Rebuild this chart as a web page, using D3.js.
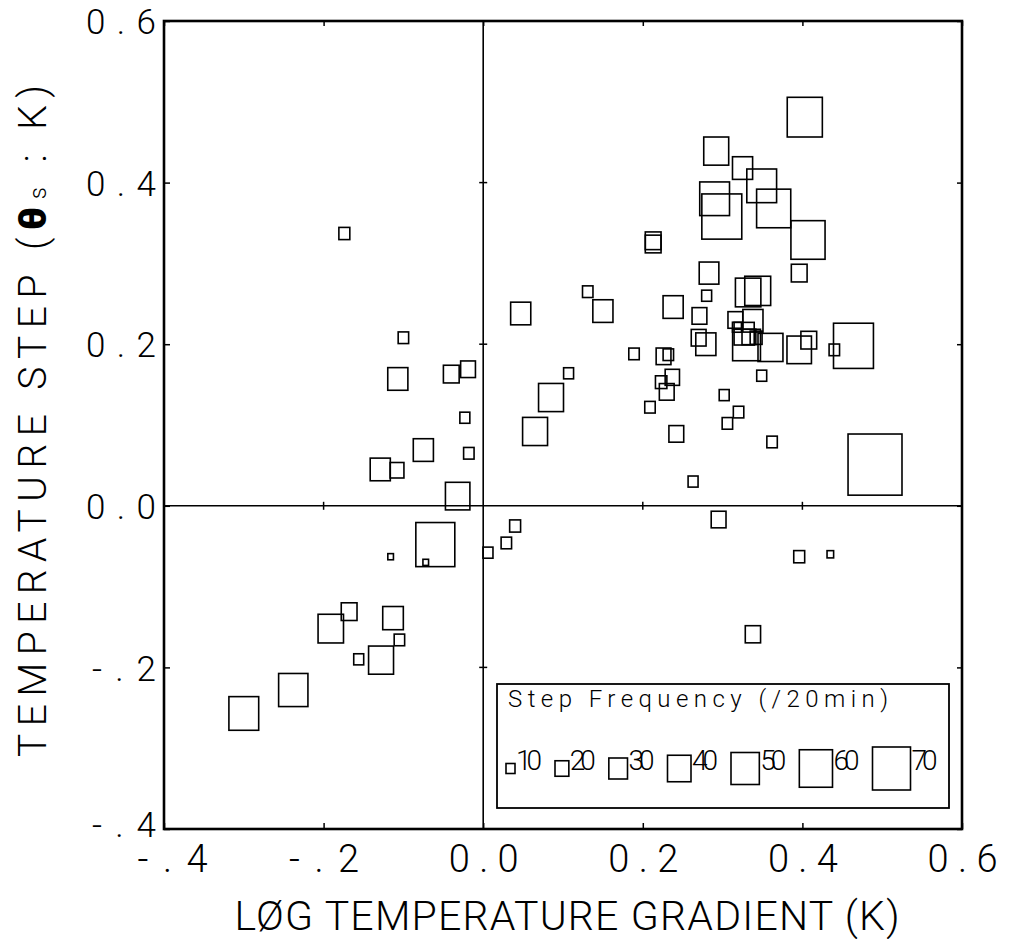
<!DOCTYPE html>
<html>
<head>
<meta charset="utf-8">
<script src="https://cdn.jsdelivr.net/npm/d3@7"></script>
<style>
  html, body { margin: 0; padding: 0; background: #fff; }
  svg { display: block; }
  text { font-family: Roboto, "DejaVu Sans", sans-serif; font-weight: 300; fill: #000; }
</style>
</head>
<body>
<script>
// ---- data ----
const gradient = [-0.174, 0.403, 0.292, 0.325, 0.349, 0.290, 0.299, 0.364, 0.407, 0.213, 0.213, 0.283, 0.396, 0.131, 0.150, 0.238, 0.280, 0.332, 0.344, 0.271, 0.316, 0.338, 0.318, 0.327, 0.333, 0.330, 0.342, 0.360, 0.396, 0.408, 0.464, 0.440, 0.270, 0.279, 0.189, 0.226, 0.232, 0.107, 0.237, 0.223, 0.230, 0.349, 0.209, 0.302, 0.320, 0.306, 0.242, 0.362, 0.491, 0.263, 0.295, 0.396, 0.435, 0.338, 0.047, -0.100, -0.107, -0.040, -0.019, 0.085, 0.065, -0.023, -0.018, -0.075, -0.129, -0.108, -0.032, -0.060, 0.040, 0.029, 0.006, -0.116, -0.072, -0.168, -0.191, -0.113, -0.105, -0.156, -0.128, -0.238, -0.300];
const step = [0.337, 0.481, 0.439, 0.418, 0.396, 0.380, 0.358, 0.368, 0.329, 0.328, 0.324, 0.288, 0.288, 0.265, 0.241, 0.246, 0.260, 0.264, 0.266, 0.235, 0.230, 0.229, 0.221, 0.213, 0.209, 0.199, 0.208, 0.196, 0.193, 0.205, 0.198, 0.193, 0.208, 0.200, 0.188, 0.185, 0.187, 0.164, 0.159, 0.153, 0.141, 0.161, 0.122, 0.137, 0.116, 0.102, 0.089, 0.079, 0.051, 0.030, -0.017, -0.063, -0.060, -0.159, 0.238, 0.208, 0.157, 0.163, 0.169, 0.134, 0.092, 0.109, 0.065, 0.069, 0.045, 0.044, 0.012, -0.048, -0.025, -0.046, -0.058, -0.063, -0.070, -0.131, -0.152, -0.139, -0.166, -0.190, -0.191, -0.228, -0.257];
const freq = [14, 64, 43, 33, 53, 53, 74, 62, 62, 24, 24, 32, 24, 13, 33, 33, 12, 44, 45, 22, 22, 33, 10, 33, 20, 49, 16, 43, 42, 24, 74, 13, 22, 33, 13, 22, 13, 12, 21, 15, 22, 12, 13, 12, 13, 13, 22, 13, 103, 12, 22, 14, 5, 23, 33, 13, 33, 24, 22, 43, 43, 12, 13, 33, 33, 20, 42, 72, 14, 13, 12, 3, 3, 24, 44, 34, 13, 12, 43, 52, 53];

const tickValues = [-0.4, -0.2, 0.0, 0.2, 0.4, 0.6];
const xTickLabels = ["-.4", "-.2", "0.0", "0.2", "0.4", "0.6"];
const yTickLabels = ["-.4", "-.2", "0.0", "0.2", "0.4", "0.6"];
const legendValues = [10, 20, 30, 40, 50, 60, 70];
const legendTitle = "Step Frequency (/20min)";
const xTitle = "LØG TEMPERATURE GRADIENT (K)";

// ---- layout ----
const W = 1012, H = 939;
const L = 164, R = 962, T = 21, B = 829;

const svg = d3.select("body").append("svg").attr("width", W).attr("height", H);
svg.append("rect").attr("width", W).attr("height", H).attr("fill", "#fff");

const x = d3.scaleLinear().domain([-0.4, 0.6]).range([L, R]);
const y = d3.scaleLinear().domain([-0.4, 0.6]).range([B, T]);
const sw = d3.scaleLinear().domain([10, 70]).range([9, 38]);   // square width
const sh = d3.scaleLinear().domain([10, 70]).range([10, 43]);  // square height (plotter aspect)

// zero lines
svg.append("line").attr("x1", x(0)).attr("x2", x(0)).attr("y1", T).attr("y2", B)
  .attr("stroke", "#000").attr("stroke-width", 1.6);
svg.append("line").attr("x1", L).attr("x2", R).attr("y1", y(0)).attr("y2", y(0))
  .attr("stroke", "#000").attr("stroke-width", 1.6);

// crosses on zero lines
const inner = tickValues.filter(v => v > -0.4 && v < 0.6 && v !== 0);
svg.append("g").selectAll("line").data(inner).join("line")
  .attr("x1", x(0) - 4).attr("x2", x(0) + 4).attr("y1", d => y(d)).attr("y2", d => y(d))
  .attr("stroke", "#000").attr("stroke-width", 1.5);
svg.append("g").selectAll("line").data(inner).join("line")
  .attr("y1", y(0) - 4).attr("y2", y(0) + 4).attr("x1", d => x(d)).attr("x2", d => x(d))
  .attr("stroke", "#000").attr("stroke-width", 1.5);

// axes (ticks inward on all four sides)
function styleAxis(g) {
  g.select(".domain").remove();
  g.selectAll(".tick line").attr("stroke", "#000").attr("stroke-width", 1.5);
}
const xb = svg.append("g").attr("transform", `translate(0,${B})`)
  .call(d3.axisBottom(x).tickValues(tickValues).tickSizeInner(-6).tickSizeOuter(0)
    .tickPadding(12).tickFormat((d, i) => xTickLabels[i]));
styleAxis(xb);
xb.selectAll(".tick text").attr("font-size", 38).attr("dy", null).attr("y", 43)
  .attr("x", d => d === -0.4 ? 8 : 0)
  .attr("text-anchor", "middle").attr("textLength", 70).attr("lengthAdjust", "spacing")
  .attr("font-family", "Roboto, 'DejaVu Sans', sans-serif").attr("font-weight", 300);

const xt = svg.append("g").attr("transform", `translate(0,${T})`)
  .call(d3.axisTop(x).tickValues(tickValues).tickSizeInner(-5).tickSizeOuter(0).tickFormat(""));
styleAxis(xt);

const yl = svg.append("g").attr("transform", `translate(${L},0)`)
  .call(d3.axisLeft(y).tickValues(tickValues).tickSizeInner(-6).tickSizeOuter(0)
    .tickPadding(8).tickFormat((d, i) => yTickLabels[i]));
styleAxis(yl);
yl.selectAll(".tick text").attr("font-size", 35).attr("dy", d => d === -0.4 ? "0.2em" : "0.36em").attr("x", -8)
  .attr("text-anchor", "end")
  .attr("textLength", (d, i) => yTickLabels[i].startsWith("-") ? 64 : 70)
  .attr("lengthAdjust", "spacing")
  .attr("font-family", "Roboto, 'DejaVu Sans', sans-serif").attr("font-weight", 300);

const yr = svg.append("g").attr("transform", `translate(${R},0)`)
  .call(d3.axisRight(y).tickValues(tickValues).tickSizeInner(-5).tickSizeOuter(0).tickFormat(""));
styleAxis(yr);

// frame
svg.append("rect").attr("x", L).attr("y", T).attr("width", R - L).attr("height", B - T)
  .attr("fill", "none").attr("stroke", "#000").attr("stroke-width", 2.6);

// data squares
const pts = gradient.map((g, i) => ({ g, s: step[i], f: freq[i] }));
svg.append("g").selectAll("rect").data(pts).join("rect")
  .attr("x", d => x(d.g) - sw(d.f) / 2)
  .attr("y", d => y(d.s) - sh(d.f) / 2)
  .attr("width", d => sw(d.f))
  .attr("height", d => sh(d.f))
  .attr("fill", "none").attr("stroke", "#000").attr("stroke-width", 1.6);

// legend
const lg = { x0: 497, y0: 684, x1: 949, y1: 808 };
svg.append("rect").attr("x", lg.x0).attr("y", lg.y0)
  .attr("width", lg.x1 - lg.x0).attr("height", lg.y1 - lg.y0)
  .attr("fill", "#fff").attr("stroke", "#000").attr("stroke-width", 1.8);
svg.append("text").attr("x", lg.x0 + 11).attr("y", lg.y0 + 23)
  .attr("font-size", 24).attr("textLength", 380).attr("lengthAdjust", "spacing")
  .text(legendTitle);

const labelW = 26, gap = 14, cy = 768.5;
let cursor = lg.x0 + 9;
const items = legendValues.map(v => {
  const it = { v, left: cursor };
  cursor += sw(v) + labelW + gap;
  return it;
});
const li = svg.append("g").selectAll("g").data(items).join("g");
li.append("rect")
  .attr("x", d => d.left).attr("y", d => cy - sh(d.v) / 2)
  .attr("width", d => sw(d.v)).attr("height", d => sh(d.v))
  .attr("fill", "none").attr("stroke", "#000").attr("stroke-width", 1.6);
li.append("text")
  .attr("x", d => d.left + sw(d.v) + 1).attr("y", 770)
  .attr("font-size", 28).attr("textLength", labelW).attr("lengthAdjust", "spacing")
  .text(d => d.v);

// axis titles
svg.append("text").attr("x", (L + R) / 2 + 4).attr("y", 930)
  .attr("text-anchor", "middle").attr("font-size", 41)
  .attr("textLength", 665).attr("lengthAdjust", "spacing")
  .text(xTitle);

const yt = svg.append("text")
  .attr("transform", "translate(46,421) rotate(-90)")
  .attr("text-anchor", "middle").attr("font-size", 39)
  .attr("textLength", 672).attr("lengthAdjust", "spacing");
yt.append("tspan").text("TEMPERATURE STEP (");
yt.append("tspan").attr("font-weight", 900).text("θ");
yt.append("tspan").attr("font-size", 24).text("s");
yt.append("tspan").text(" : K)");
</script>
</body>
</html>
